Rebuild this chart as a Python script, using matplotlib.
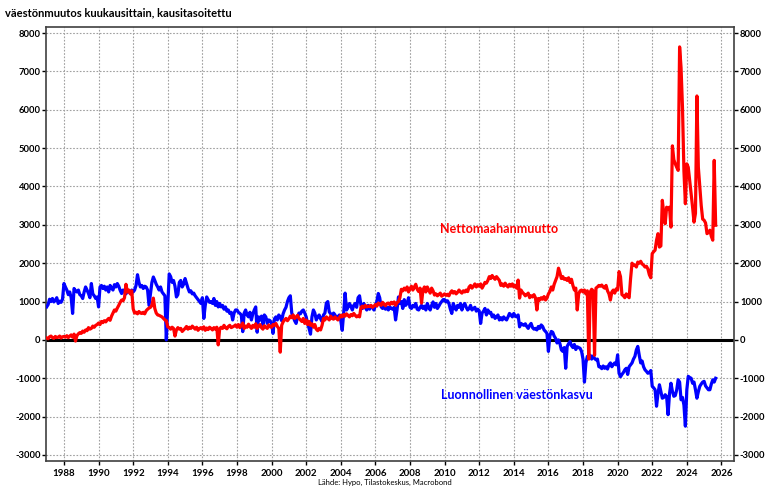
import numpy as np
import matplotlib.pyplot as plt
from matplotlib.ticker import MultipleLocator

# Monthly values from Jan 1987, one row per year
alku_vuosi = 1987

netto = [
    50, 30, 80, 100, 60, 40, 90, 60, 70, 100, 50, 80,
    90, 70, 110, 60, 100, 130, 70, 150, -30, 110, 160, 190,
    170, 230, 200, 260, 240, 320, 280, 300, 360, 330, 380, 400,
    440, 400, 480, 450, 500, 470, 520, 560, 510, 620, 700, 780,
    750, 830, 900, 980, 1040, 1020, 1100, 1450, 1250, 1300, 1200, 1280,
    810, 700, 720, 680, 740, 700, 690, 720, 680, 760, 800, 830,
    850, 900, 1090, 820, 700, 650, 640, 620, 600, 560, 520, 500,
    340, 320, 280, 330, 300, 100, 260, 320, 280, 300, 220, 260,
    300, 350, 280, 330, 300, 360, 320, 280, 330, 250, 300, 320,
    280, 340, 250, 310, 270, 330, 300, 260, 320, 280, 330, -130,
    290, 330, 300, 380, 320, 290, 350, 380, 320, 340, 360, 390,
    330, 400, 320, 380, 440, 300, 360, 330, 410, 350, 300, 380,
    330, 420, 300, 360, 400, 320, 280, 370, 330, 300, 390, 340,
    330, 400, 380, 430, 350, 300, -320, 380, 470, 520, 560, 500,
    550, 620, 580, 650, 560, 600, 640, 560, 520, 480, 560, 430,
    520, 400, 480, 380, 420, 330, 400, 280, 240, 300, 260, 380,
    560, 520, 600, 560, 520, 620, 560, 540, 600, 560, 520, 580,
    640, 600, 660, 620, 680, 640, 600, 660, 630, 690, 640, 600,
    630, 600, 850, 880, 840, 900, 860, 880, 870, 900, 850, 880,
    920, 880, 960, 940, 900, 980, 930, 890, 950, 960, 920, 980,
    940, 990, 900, 970, 1000, 1100, 1320, 1280, 1350, 1300, 1380, 1250,
    1330, 1400, 1300, 1380, 1450, 1320, 1260, 1350, 960, 1300, 1380, 1250,
    1380, 1300, 1220, 1350, 1280, 1170, 1200, 1150, 1180, 1220, 1140, 1170,
    1200, 1160, 1190, 1150, 1230, 1280, 1220, 1260, 1200, 1240, 1300, 1250,
    1220, 1280, 1250, 1300, 1260, 1380, 1420, 1350, 1400, 1460, 1380, 1440,
    1400, 1460, 1350, 1420, 1500, 1480, 1550, 1650, 1600, 1680, 1620, 1580,
    1650, 1600, 1550, 1420, 1460, 1400, 1480, 1420, 1380, 1450, 1400, 1460,
    1380, 1420, 1350, 1560, 1090, 1300, 1240, 1200, 1150, 1180, 1220, 1100,
    1150, 1120, 1180, 1100, 780, 1080, 1040, 1100, 1060, 1130, 1040, 1090,
    1200, 1260, 1380, 1300, 1450, 1550, 1650, 1870, 1750, 1600, 1650, 1580,
    1600, 1550, 1620, 1500, 1580, 1420, 1300, 1350, 780, 1200, 1280, 1300,
    1250, 1300, 1200, 1280, -500, 1250, 1320, 1280, -400, 1350, 1380, 1420,
    1400, 1430, 1380, 1350, 1420, 1280, 1200, 1040, 1250, 1300, 1220, 1330,
    1300, 1780, 1650, 1180, 1150, 1100, 1200, 1140, 1100, 1600, 2000, 1950,
    1950, 1900, 2030, 2000, 2050, 1980, 1950, 1900, 1920, 1850, 1700, 1620,
    2250, 2300, 2340, 2600, 2770, 2420, 2450, 3640, 3300, 3030, 3460, 3400,
    3460, 2940, 5060, 4700, 4590, 4500, 4420, 7640, 7100, 6060, 4400, 3550,
    4590, 4500, 4150, 3800, 3460, 3070, 3300, 6360, 4500, 3980, 3500, 3150,
    3120, 3050, 2770, 2800, 2860, 2700, 2600, 4680, 2990,
]

luonnollinen = [
    860, 920, 1060, 1000, 1080, 990, 1030, 1100, 950, 1010, 980, 1060,
    1470, 1380, 1300, 1180, 1250, 1100, 690, 1340, 1280, 1250, 1300, 1180,
    1150, 1080, 1250, 1380, 1300, 1210, 1100, 1470, 1200, 1150, 1080, 1120,
    860, 1380, 1420, 1340, 1400, 1300, 1380, 1250, 1420, 1350, 1300, 1440,
    1380, 1470, 1400, 1290, 1210, 1300, 1250, 1200, 1280, 1250, 1220, 1300,
    1250, 1300, 1420, 1700, 1500, 1380, 1420, 1340, 1400, 1380, 1300, 900,
    1200, 1500, 1640, 1550, 1450, 1380, 1300, 1380, 1250, 1200, 1150, 0,
    900, 1720, 1650, 1500, 1550, 1400, 1120, 1180, 1500, 1550, 1380, 1450,
    1600, 1470, 1350, 1250, 1280, 1200, 1220, 1150, 1100, 1050, 1000, 950,
    1100, 560, 900, 1120, 1050, 980, 1000, 950, 1080, 900, 1000, 860,
    950, 860, 900, 800, 860, 750, 780, 690, 720, 520, 700, 780,
    780, 720, 690, 650, 215, 700, 780, 650, 600, 720, 520, 680,
    780, 860, 200, 600, 520, 620, 400, 650, 600, 430, 520, 500,
    430, 170, 550, 600, 520, 650, 600, 500, 680, 780, 850, 1000,
    1100, 1150, 700, 600, 500, 430, 600, 700, 680, 750, 780, 700,
    600, 430, 300, 150, 600, 780, 700, 520, 600, 650, 550, 480,
    650, 700, 960, 1000, 730, 680, 600, 700, 650, 560, 600, 650,
    500, 250, 700, 1220, 780, 850, 950, 880, 780, 900, 950, 850,
    1100, 1150, 900, 820, 950, 850, 780, 900, 800, 880, 850, 780,
    900, 1000, 1210, 1100, 860, 820, 900, 800, 850, 780, 860, 820,
    800, 850, 520, 780, 1120, 950, 1000, 820, 1050, 900, 950, 1100,
    850, 820, 900, 860, 950, 800, 780, 850, 900, 820, 880, 780,
    950, 850, 780, 900, 990, 850, 950, 820, 880, 950, 1000, 1050,
    1050, 990, 1020, 950, 800, 690, 950, 850, 780, 900, 850, 950,
    780, 900, 950, 850, 780, 820, 900, 780, 820, 850, 750, 800,
    760, 430, 700, 750, 820, 650, 780, 700, 720, 600, 650, 560,
    600, 650, 520, 580, 520, 600, 550, 520, 600, 690, 650, 600,
    690, 620, 600, 650, 340, 430, 400, 380, 420, 350, 300, 380,
    430, 320, 280, 300, 260, 350, 300, 390, 350, 260, 220, 170,
    -300, 100, 220, 200, 100, 40, -80, 0, -100, -260, -300, -200,
    -740, -170, -100, -40, -150, -200, -120, -250, -180, -200, -220, -300,
    -500, -1100, -600, -430, -450, -400, -500, -420, -480, -520, -500, -700,
    -700, -750, -680, -740, -700, -760, -650, -600, -700, -640, -600, -650,
    -390, -870, -960, -900, -850, -780, -740, -900, -700, -650, -600, -500,
    -430, -260, -170, -400, -600, -550, -700, -780, -820, -870, -850, -800,
    -1210, -1250, -1300, -1730, -1400, -1170, -1350, -1520, -1500, -1430, -1480, -1950,
    -1400, -1130, -1340, -1470, -1450, -1300, -1040, -1100, -1560, -1500, -1700, -2250,
    -1300, -950, -980, -1000, -1130, -1100, -1300, -1520, -1350, -1210, -1150, -1100,
    -1080, -1200, -1250, -1300, -1300, -1150, -1040, -1100, -1000,
]

otsikko = "väestönmuutos kuukausittain, kausitasoitettu"
lahde = "Lähde: Hypo, Tilastokeskus, Macrobond"

plt.rcParams['font.family'] = ['Lato', 'DejaVu Sans']
plt.rcParams['axes.unicode_minus'] = False

x_netto = alku_vuosi + np.arange(len(netto)) / 12
x_luonn = alku_vuosi + np.arange(len(luonnollinen)) / 12

fig = plt.figure(figsize=(7.69, 4.90), dpi=100)
ax = fig.add_axes([0.060, 0.059, 0.895, 0.886])

ax.axhline(0, color='black', lw=2.2, zorder=2)
ax.plot(x_luonn, luonnollinen, color='#0000ff', lw=2.3, zorder=3)
ax.plot(x_netto, netto, color='#ff0000', lw=2.3, zorder=4)

ax.set_xlim(1986.97, 2026.75)
ax.set_ylim(-3160, 8160)
ax.xaxis.set_major_locator(MultipleLocator(2))
ax.yaxis.set_major_locator(MultipleLocator(1000))
ax.grid(True, color='#a0a0a0', linestyle=(0, (1.5, 1.5)), lw=0.8)
ax.set_axisbelow(True)

ax.tick_params(axis='y', which='both', left=True, right=True,
               labelleft=True, labelright=True, direction='out',
               length=3, width=1, labelsize=6.8, pad=1)
ax.tick_params(axis='x', direction='out', length=3, width=1,
               labelsize=7, pad=3)
for lbl in ax.get_xticklabels() + ax.get_yticklabels():
    lbl.set_fontweight('bold')
for s in ax.spines.values():
    s.set_color('#404040')
    s.set_linewidth(1.2)

ax.text(2009.72, 2894, "Nettomaahanmuutto", color='#ff0000',
        fontsize=9, fontweight='bold', va='center', ha='left')
ax.text(2009.78, -1434, "Luonnollinen väestönkasvu", color='#0000ff',
        fontsize=9, fontweight='bold', va='center', ha='left')

fig.text(0.007, 0.973, otsikko, fontsize=8, fontweight='bold',
         va='center', ha='left')
fig.text(0.5, 0.008, lahde, fontsize=5.5, va='bottom', ha='center')

fig.savefig('out.png', dpi=100)
